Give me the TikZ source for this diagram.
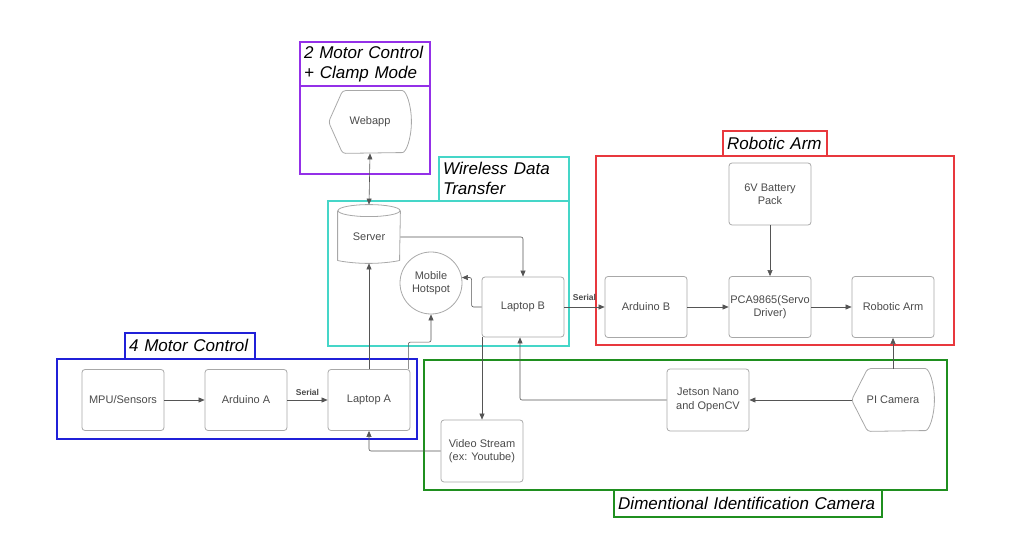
\documentclass[tikz,border=0pt]{standalone}
\usepackage{fontspec}
\setmainfont{Liberation Sans}
\usetikzlibrary{arrows.meta}

\definecolor{grppurple}{HTML}{9430E8}
\definecolor{grpcyan}{HTML}{45D6C8}
\definecolor{grpred}{HTML}{E8383D}
\definecolor{grpblue}{HTML}{2020D8}
\definecolor{grpgreen}{HTML}{1F8F1F}
\definecolor{boxgray}{HTML}{A8A8A8}
\definecolor{labelgray}{HTML}{4A4A4A}
\definecolor{linegray}{HTML}{555555}

\tikzset{
  >={Triangle[width=5pt,length=6pt]},
  block/.style={draw=boxgray, line width=0.8pt, rounded corners=3pt,
    minimum width=82pt, minimum height=61pt, inner sep=1pt, align=center,
    text=labelgray, font=\fontsize{11}{13.5}\selectfont},
  plainblock/.style={block, draw=none},
  boxline/.style={draw=boxgray, line width=0.8pt, rounded corners=3pt},
  frame/.style={line width=1.4pt},
  grptitle/.style={inner xsep=4pt, inner ysep=0pt, align=left,
    font=\fontsize{17}{20}\selectfont\itshape, anchor=south west},
  link/.style={draw=linegray, line width=0.6pt, rounded corners=2pt, ->},
  serial/.style={font=\fontsize{8.5}{10}\selectfont\bfseries, text=labelgray, inner sep=1pt}
}

\begin{document}
\begin{tikzpicture}[x=1pt,y=1pt]

    % --- Canvas ---
    \useasboundingbox (0,0) rectangle (1023,552);

    % --- Group frames ---
    % 2 Motor Control + Clamp Mode
    \draw[frame, draw=grppurple] (300,378) rectangle (430,466) rectangle (300,510);
    \node[grptitle, minimum width=130pt, minimum height=44pt, text width=122pt]
        (titleweb) at (300,466) {2 Motor Control\\+ Clamp Mode};
    % Wireless Data Transfer
    \draw[frame, draw=grpcyan] (328,206) rectangle (569,351);
    \draw[frame, draw=grpcyan] (439,351) rectangle (569,395);
    \node[grptitle, minimum width=130pt, minimum height=44pt, text width=122pt]
        (titlewireless) at (439,351) {Wireless Data\\Transfer};
    % Robotic Arm
    \draw[frame, draw=grpred] (596,207) rectangle (954,396);
    \draw[frame, draw=grpred] (723,396) rectangle (827,421);
    \node[grptitle, minimum width=104pt, minimum height=25pt, text width=96pt]
        (titlearm) at (723,396) {Robotic Arm};
    % 4 Motor Control
    \draw[frame, draw=grpblue] (57,113) rectangle (417,193);
    \draw[frame, draw=grpblue] (125,193) rectangle (255,219);
    \node[grptitle, minimum width=130pt, minimum height=26pt, text width=122pt]
        (titlemotor) at (125,193) {4 Motor Control};
    % Dimentional Identification Camera
    \draw[frame, draw=grpgreen] (424,62) rectangle (947,192);
    \draw[frame, draw=grpgreen] (614,35) rectangle (882,62);
    \node[grptitle, minimum width=268pt, minimum height=27pt, text width=260pt,
        anchor=north west] (titlecamera) at (614,62) {Dimentional Identification Camera};

    % --- Blocks ---
    \node[plainblock, minimum height=62pt] (webapp) at (370,430) {Webapp};
    \node[plainblock, minimum width=62pt, minimum height=52pt] (server) at (369,315) {Server};
    \node[block, circle, minimum size=62pt] (hotspot) at (431,269) {Mobile\\Hotspot};
    \node[block, minimum height=60pt] (laptopB) at (523,245) {Laptop B};

    \node[block] (mpu) at (123,152) {MPU/Sensors};
    \node[block] (arduinoA) at (246,152) {Arduino A};
    \node[block] (laptopA) at (369,152) {Laptop A};

    \node[block, minimum height=62pt] (video) at (482,101) {Video Stream\\(ex: Youtube)};
    \node[block, minimum height=62pt] (jetson) at (708,152) {Jetson Nano\\and OpenCV};
    \node[plainblock, minimum height=62pt] (picam) at (893,152) {PI Camera};

    \node[block, minimum height=62pt] (battery) at (770,358) {6V Battery\\Pack};
    \node[block] (arduinoB) at (646,245) {Arduino B};
    \node[block] (pca) at (770,245) {PCA9865(Servo\\Driver)};
    \node[block] (robarm) at (893,245) {Robotic Arm};

    % --- Special outlines ---
    % display shapes (pointed left, rounded right)
    \draw[boxline] (webapp.west) -- ([xshift=14]webapp.north west) -- ([xshift=-12]webapp.north east)
        arc[start angle=90, end angle=-90, x radius=12, y radius=31] -- ([xshift=14]webapp.south west) -- cycle;
    \draw[boxline] (picam.west) -- ([xshift=16]picam.north west) -- ([xshift=-12]picam.north east)
        arc[start angle=90, end angle=-90, x radius=12, y radius=31] -- ([xshift=16]picam.south west) -- cycle;
    % cylinder for the server
    \draw[boxline] (server.north west) -- ([yshift=6]server.south west)
        arc[start angle=180, end angle=360, x radius=31, y radius=6] -- (server.north east);
    \draw[boxline] (server.north) ellipse [x radius=31, y radius=6];

    % --- Connectors ---
    \draw[link, <->] (webapp.south) -- ([yshift=6]server.north);
    \draw[link] (server.east) -| (laptopB.north);
    \draw[link] (laptopB.west) -- ++(-10,0) |- (hotspot.10);
    \draw[link] (laptopA.north) -- (server.south);
    \draw[link] ([xshift=-2]laptopA.north east) -- ++(0,27) -| (hotspot.south);
    \draw[link] (video.north |- laptopB.south) -- (video.north);
    \draw[link] (video.west) -| (laptopA.south);
    \draw[link] (jetson.west) -| ([xshift=-3]laptopB.south);
    \draw[link] (picam.west) -- (jetson.east);
    \draw[link] (picam.north) -- (robarm.south);

    \draw[link] (mpu.east) -- (arduinoA.west);
    \draw[link] (arduinoA.east) -- node[serial, above, yshift=3pt] (serialA) {Serial} (laptopA.west);
    \draw[link] (laptopB.east) -- node[serial, above, yshift=5pt] (serialB) {Serial} (arduinoB.west);
    \draw[link] (arduinoB.east) -- (pca.west);
    \draw[link] (pca.east) -- (robarm.west);
    \draw[link] (battery.south) -- (pca.north);

\end{tikzpicture}
\end{document}
